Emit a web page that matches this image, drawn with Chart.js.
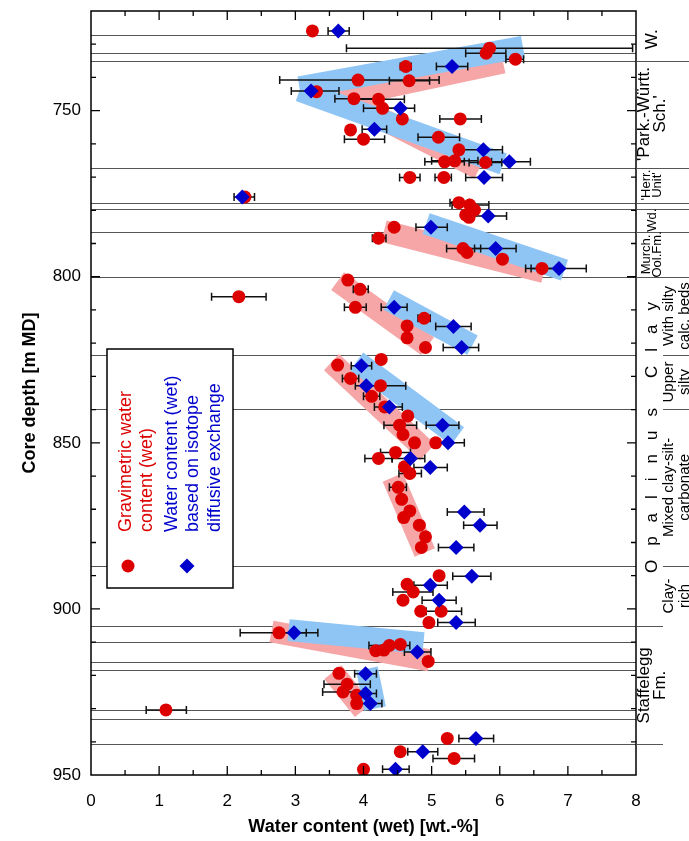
<!DOCTYPE html>
<html><head><meta charset="utf-8">
<script src="https://cdn.jsdelivr.net/npm/chart.js@4/dist/chart.umd.min.js"></script>
<style>html,body{margin:0;padding:0;background:#fff}</style>
</head><body>
<canvas id="c" width="689" height="841"></canvas>
<script>
// ---------- DATA ----------
const xTickLabels = [0, 1, 2, 3, 4, 5, 6, 7, 8];
const yTickLabels = [750, 800, 850, 900, 950];

// Gravimetric water content (wet) – red circles
const gravX     = [3.25,5.85,5.80,6.23,4.62,3.92,4.67,3.31,3.86,4.22,4.28,4.57,5.42,3.81,4.00,5.10,5.40,5.19,5.34,5.79,4.68,5.18,2.26,5.40,5.56,5.63,5.50,5.55,4.45,4.22,5.46,5.52,6.04,6.62,3.77,3.95,2.17,3.88,4.89,4.64,4.64,4.91,4.26,3.62,3.81,4.25,4.12,4.31,4.65,4.53,4.58,4.75,5.06,4.47,4.22,4.60,4.68,4.51,4.56,4.68,4.59,4.82,4.91,4.85,5.11,4.64,4.73,4.58,4.84,5.14,4.96,2.76,4.18,4.30,4.38,4.54,4.95,3.64,3.76,3.70,3.90,3.90,1.10,5.23,4.54,5.33,4.00];
const gravDepth = [726.0,731.2,732.7,734.5,736.7,740.8,741.0,744.3,746.4,746.6,749.3,752.5,752.5,755.8,758.6,758.0,761.8,765.4,765.1,765.6,770.1,770.1,776.0,777.7,778.4,779.9,781.4,782.1,785.1,788.4,791.5,792.7,794.7,797.5,801.0,803.8,806.0,809.2,812.5,814.8,818.4,821.3,824.9,826.6,830.6,832.8,836.0,839.2,841.9,844.7,847.5,850.0,850.0,852.9,854.7,857.2,859.2,863.4,867.0,870.5,872.5,874.8,878.3,881.5,890.0,892.6,894.9,897.4,900.7,900.7,904.1,907.2,912.6,912.4,911.0,910.7,915.8,919.4,922.7,925.0,926.0,928.5,930.4,939.0,943.0,945.0,948.3];
const gravErrLo = [null,3.75,5.50,6.09,4.54,2.77,4.38,null,3.58,3.90,4.00,null,5.12,null,3.72,4.80,null,4.90,5.00,5.55,4.53,5.05,2.10,5.27,5.30,null,null,null,null,4.13,5.22,null,null,6.38,null,3.85,1.77,3.72,4.80,null,null,null,null,null,3.69,3.88,4.00,null,null,4.30,null,null,null,4.25,4.02,null,4.52,4.38,null,null,null,null,null,null,null,null,4.43,null,null,4.92,null,2.19,null,null,4.08,null,null,null,3.42,3.40,null,null,0.81,null,null,5.02,null];
const gravErrHi = [null,7.95,6.09,6.35,4.70,5.11,4.97,null,4.16,4.60,4.56,null,5.73,null,4.31,5.41,null,5.48,5.68,6.03,4.83,5.29,2.40,5.55,5.84,null,null,null,null,4.33,5.72,null,null,6.86,null,4.07,2.57,4.04,4.98,null,null,null,null,null,3.93,4.62,4.24,null,null,4.78,null,null,null,4.69,4.42,null,4.85,4.63,null,null,null,null,null,null,null,null,5.02,null,null,5.44,null,3.33,null,null,4.68,null,null,null,4.10,4.00,null,null,1.40,null,null,5.63,null];

// Water content (wet) based on isotope diffusive exchange – blue diamonds
const isoX     = [3.63,5.30,3.23,4.54,4.16,5.76,6.14,5.77,2.22,5.83,4.99,5.94,6.87,4.45,5.32,5.44,3.97,4.04,4.38,5.16,5.24,4.69,4.98,5.48,5.71,5.36,5.59,4.98,5.11,5.36,2.98,4.79,4.03,4.03,4.10,5.65,4.87,4.47];
const isoDepth = [726.0,736.7,744.1,749.3,755.6,761.8,765.4,770.1,776.0,781.7,785.1,791.5,797.5,809.2,815.0,821.3,826.8,832.8,839.2,844.7,850.0,854.7,857.4,870.8,874.8,881.5,890.2,892.9,897.4,904.1,907.2,913.0,919.5,925.5,928.5,939.0,943.0,948.3];
const isoErrLo = [3.48,5.07,2.94,4.33,3.98,5.41,5.88,5.50,null,5.55,4.77,5.63,6.46,4.26,5.06,5.17,3.82,null,4.16,4.92,5.00,4.42,4.74,5.23,5.47,5.10,5.31,4.74,4.86,5.09,2.80,4.60,3.87,3.87,3.93,5.40,4.65,4.28];
const isoErrHi = [3.79,5.53,3.64,4.75,4.34,6.04,6.45,6.04,null,6.10,5.23,6.24,7.27,4.64,5.58,5.69,4.12,null,4.57,5.40,5.48,4.90,5.23,5.77,5.96,5.62,5.87,5.23,5.36,5.64,3.16,4.99,4.19,4.19,4.27,5.91,5.09,4.67];

// Trend bands [x1, depth1, x2, depth2]
const pinkBands = [[3.65,746.0,6.05,735.5],[3.65,746.0,5.70,767.5],[4.30,786.3,6.65,798.6],[3.62,801.3,4.94,820.9],[3.53,825.7,4.94,852.8],[4.43,860.4,4.90,883.0],[2.65,906.8,4.97,915.5],[3.55,919.0,4.00,930.5]];
const blueBands = [[3.06,743.0,6.34,730.8],[3.06,744.0,6.05,766.0],[4.92,784.0,6.95,798.0],[4.37,807.0,5.60,820.6],[3.90,825.5,5.38,848.0],[2.90,906.4,4.88,910.3],[4.05,918.0,4.17,930.0]];

// Stratigraphic boundaries (core depth, m MD)
const boundaryDepths = [727.3,732.5,735.1,767.2,777.7,779.6,786.6,800.0,823.6,839.8,887.0,905.2,910.1,916.1,918.4,930.3,933.0,940.7];
const unitBoundaryDepths = [735.1,767.2,777.7,779.6,786.6,800.0,905.2,940.7];
const subUnitBoundaryDepths = [823.6,839.8,887.0];

// Unit labels: [lines, center depth, font size, line spacing]
const unitLabels = [
  [["W."], 728.5, 17, 16],
  [["'Park.-Württ.", "Sch.'"], 751.0, 17, 16],
  [["'Herr.", "Unit'"], 772.4, 13, 11],
  [["Wd."], 783.0, 13, 11],
  [["Murch.", "Ool.Fm."], 793.3, 13, 11],
  [["Staffelegg", "Fm."], 923.0, 17, 16]
];
const subUnitLabels = [
  [["With silty", "calc. beds"], 811.8],
  [["Upper", "silty"], 831.7],
  [["Mixed clay-silt-", "carbonate"], 863.4],
  [["Clay-", "rich"], 896.1]
];
const groupLabel = ["Opalinus", "Clay", 848.4];

const legendRed = ["Gravimetric water", "content (wet)"];
const legendBlue = ["Water content (wet)", "based on isotope", "diffusive exchange"];

// ---------- STYLE ----------
const FONT = '"Liberation Sans", Arial, Helvetica, sans-serif';
const RED = '#dd0000', BLUE = '#0000cc';
const PINK = '#f6a6a6', LBLUE = '#8fc5f5';
Chart.defaults.font.family = FONT;
Chart.defaults.color = '#000';

const pts = (xs, ds) => xs.map((v, i) => ({x: v, y: ds[i]}));
const bandDs = (b, color) => ({
  data: [{x: b[0], y: b[1]}, {x: b[2], y: b[3]}],
  showLine: true, borderColor: color, borderWidth: 22, borderCapStyle: 'butt',
  pointRadius: 0, pointHoverRadius: 0, fill: false, clip: false
});

const datasets = [
  {label: 'iso', data: pts(isoX, isoDepth), pointStyle: 'rectRot', pointRadius: 7.5, backgroundColor: BLUE, borderWidth: 0, pointHoverRadius: 7.5},
  {label: 'grav', data: pts(gravX, gravDepth), pointStyle: 'circle', pointRadius: 6.5, backgroundColor: RED, borderWidth: 0, pointHoverRadius: 6.5},
  ...blueBands.map(b => bandDs(b, LBLUE)),
  ...pinkBands.map(b => bandDs(b, PINK))
];
const RED_INDEX = 1;

function drawErrBars(ctx, xs, ys, xv, dv, lo, hi) {
  for (let i = 0; i < xv.length; i++) {
    if (lo[i] == null) continue;
    const py = ys.getPixelForValue(dv[i]);
    const a = xs.getPixelForValue(lo[i]), b = xs.getPixelForValue(hi[i]);
    ctx.beginPath();
    ctx.moveTo(a, py); ctx.lineTo(b, py);
    ctx.moveTo(a, py - 4); ctx.lineTo(a, py + 4);
    ctx.moveTo(b, py - 4); ctx.lineTo(b, py + 4);
    ctx.stroke();
  }
}

function rotText(ctx, text, x, y, align) {
  ctx.save();
  ctx.translate(x, y);
  ctx.rotate(-Math.PI / 2);
  ctx.textAlign = align || 'center';
  ctx.textBaseline = 'middle';
  ctx.fillText(text, 0, 0);
  ctx.restore();
}

const overlay = {
  id: 'overlay',
  beforeDatasetsDraw(chart) {
    const {ctx, chartArea: a} = chart;
    const ys = chart.scales.y;
    ctx.save();
    ctx.strokeStyle = '#555'; ctx.lineWidth = 1.1;
    boundaryDepths.forEach(d => {
      const py = Math.round(ys.getPixelForValue(d)) + 0.5;
      ctx.beginPath(); ctx.moveTo(a.left, py); ctx.lineTo(a.right, py); ctx.stroke();
    });
    ctx.restore();
  },
  beforeDatasetDraw(chart, args) {
    if (args.index !== RED_INDEX) return;
    const {ctx} = chart;
    const xs = chart.scales.x, ys = chart.scales.y;
    ctx.save();
    ctx.strokeStyle = '#111'; ctx.lineWidth = 1.5;
    drawErrBars(ctx, xs, ys, gravX, gravDepth, gravErrLo, gravErrHi);
    drawErrBars(ctx, xs, ys, isoX, isoDepth, isoErrLo, isoErrHi);
    ctx.restore();
  },
  afterDraw(chart) {
    const {ctx, chartArea: a} = chart;
    const xs = chart.scales.x, ys = chart.scales.y;
    const W = chart.width;
    ctx.save();
    // frame
    ctx.strokeStyle = '#000'; ctx.lineWidth = 1.5;
    ctx.strokeRect(a.left, a.top, a.right - a.left, a.bottom - a.top);
    // inward ticks
    ctx.lineWidth = 1.3;
    ctx.beginPath();
    for (let k = 1; k < 16; k++) {
      const v = k / 2, px = xs.getPixelForValue(v), len = (k % 2 === 0) ? 9 : 5;
      ctx.moveTo(px, a.bottom); ctx.lineTo(px, a.bottom - len);
      ctx.moveTo(px, a.top); ctx.lineTo(px, a.top + len);
    }
    for (let d = 730; d < 950; d += 10) {
      const py = ys.getPixelForValue(d), len = (d % 50 === 0) ? 9 : 5;
      ctx.moveTo(a.left, py); ctx.lineTo(a.left + len, py);
      ctx.moveTo(a.right, py); ctx.lineTo(a.right - len, py);
    }
    ctx.stroke();

    // label column lines
    ctx.strokeStyle = '#555'; ctx.lineWidth = 1.1;
    ctx.beginPath();
    unitBoundaryDepths.forEach(d => {
      const py = Math.round(ys.getPixelForValue(d)) + 0.5;
      const end = (d > 900) ? a.right + 27 : W;
      ctx.moveTo(a.right, py); ctx.lineTo(end, py);
    });
    subUnitBoundaryDepths.forEach(d => {
      const py = Math.round(ys.getPixelForValue(d)) + 0.5;
      ctx.moveTo(a.right + 27, py); ctx.lineTo(W, py);
    });
    ctx.stroke();

    // unit labels
    ctx.fillStyle = '#000';
    unitLabels.forEach(([lines, d, fs, sp]) => {
      ctx.font = fs + 'px ' + FONT;
      const cy = ys.getPixelForValue(d);
      const x0 = a.right + 16 - (lines.length - 1) * sp / 2;
      lines.forEach((t, i) => rotText(ctx, t, x0 + i * sp, cy));
    });
    ctx.font = '15px ' + FONT;
    subUnitLabels.forEach(([lines, d]) => {
      const cy = ys.getPixelForValue(d);
      lines.forEach((t, i) => rotText(ctx, t, a.right + 33 + i * 16, cy));
    });
    // spaced group label "Opalinus Clay"
    ctx.font = '17px ' + FONT;
    const gap = 14, wordGap = 30;
    const chars = [];
    let total = 0;
    const words = [groupLabel[0], groupLabel[1]];
    words.forEach((w, wi) => {
      for (let i = 0; i < w.length; i++) {
        const cw = ctx.measureText(w[i]).width;
        chars.push([w[i], total, cw]);
        total += cw + ((i < w.length - 1) ? gap : 0);
      }
      if (wi === 0) total += wordGap;
    });
    const gcy = ys.getPixelForValue(groupLabel[2]);
    const startY = gcy + total / 2;
    chars.forEach(([ch, off, cw]) => {
      ctx.save();
      ctx.translate(a.right + 16, startY - off);
      ctx.rotate(-Math.PI / 2);
      ctx.textAlign = 'left'; ctx.textBaseline = 'middle';
      ctx.fillText(ch, 0, 0);
      ctx.restore();
    });

    // legend
    const lx = a.left + 16, ly = 349, lw = 126, lh = 239;
    ctx.fillStyle = '#fff';
    ctx.fillRect(lx, ly, lw, lh);
    ctx.strokeStyle = '#000'; ctx.lineWidth = 1.5;
    ctx.strokeRect(lx, ly, lw, lh);
    ctx.font = '18px ' + FONT;
    const tb = ly + 183;
    ctx.fillStyle = RED;
    legendRed.forEach((t, i) => rotText(ctx, t, lx + 19 + i * 21.5, tb, 'left'));
    ctx.fillStyle = BLUE;
    legendBlue.forEach((t, i) => rotText(ctx, t, lx + 65 + i * 21.5, tb, 'left'));
    ctx.fillStyle = RED;
    ctx.beginPath(); ctx.arc(lx + 21, ly + 217, 6.5, 0, Math.PI * 2); ctx.fill();
    ctx.fillStyle = BLUE;
    const dx = lx + 80, dy = ly + 217, r = 7.5;
    ctx.beginPath(); ctx.moveTo(dx, dy - r); ctx.lineTo(dx + r, dy); ctx.lineTo(dx, dy + r); ctx.lineTo(dx - r, dy); ctx.closePath(); ctx.fill();
    ctx.restore();
  }
};

new Chart(document.getElementById('c'), {
  type: 'scatter',
  data: {datasets},
  plugins: [overlay],
  options: {
    responsive: false, animation: false, devicePixelRatio: 1,
    layout: {padding: {top: 11, right: 53, left: 0, bottom: 0}},
    plugins: {legend: {display: false}, tooltip: {enabled: false}},
    events: [],
    scales: {
      x: {
        type: 'linear', min: 0, max: 8, position: 'bottom',
        afterBuildTicks: s => { s.ticks = xTickLabels.map(v => ({value: v})); },
        afterFit: s => { s.height = 66; s.paddingLeft = 0; s.paddingRight = 0; },
        grid: {display: false, drawTicks: false},
        border: {display: false},
        ticks: {padding: 16, color: '#000', font: {size: 17}, maxRotation: 0, autoSkip: false},
        title: {display: true, text: 'Water content (wet) [wt.-%]', color: '#000', font: {size: 18, weight: 'bold'}, padding: {top: 0, bottom: 3}}
      },
      y: {
        type: 'linear', min: 720, max: 950, reverse: true,
        afterBuildTicks: s => { s.ticks = yTickLabels.map(v => ({value: v})); },
        afterFit: s => { s.width = 91; s.paddingTop = 0; s.paddingBottom = 0; },
        grid: {display: false, drawTicks: false},
        border: {display: false},
        ticks: {padding: 10, color: '#000', font: {size: 17}, autoSkip: false},
        title: {display: true, text: 'Core depth [m MD]', color: '#000', font: {size: 18, weight: 'bold'}, padding: {top: 19, bottom: 0}}
      }
    }
  }
});
</script>
</body></html>
